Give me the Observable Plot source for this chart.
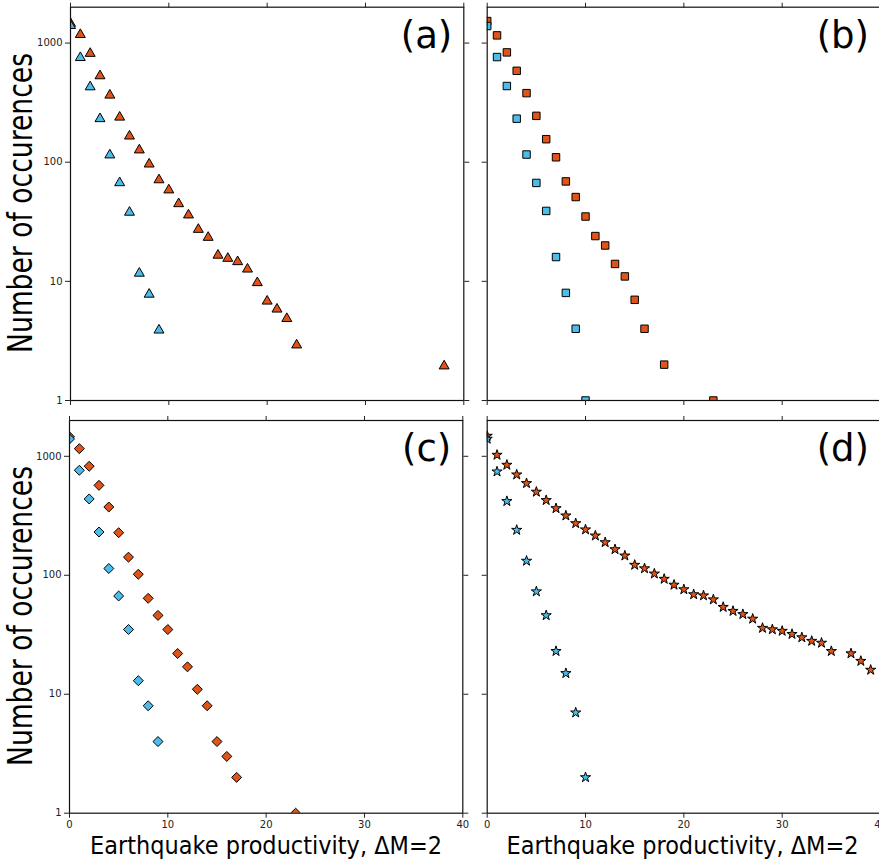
<!DOCTYPE html>
<html><head><meta charset="utf-8">
<script src="https://cdn.jsdelivr.net/npm/d3@7"></script>
<script src="https://cdn.jsdelivr.net/npm/@observablehq/plot@0.6"></script>
<style>
html,body{margin:0;padding:0;background:#fff;overflow:hidden;}
#wrap{position:relative;width:879px;height:865px;font-family:"DejaVu Sans";overflow:hidden;}
#wrap svg{position:absolute;}
</style></head><body><div id="wrap"></div>
<script>
// ---- data: [productivity, number of occurrences] ----
const xTicks = [0, 10, 20, 30, 40];
const yTicks = [1, 10, 100, 1000];

const aOrange = [[0,1500],[1,1210],[2,840],[3,545],[4,375],[5,245],[6,170],[7,130],[8,99],[9,73],[10,60],[11,46],[12,37],[13,28],[14,24],[15,17],[16,16],[17,15],[18,13],[19,10],[20,7],[21,6],[22,5],[23,3],[38,2]];
const aBlue = [[0,1440],[1,775],[2,440],[3,238],[4,118],[5,69],[6,39],[7,12],[8,8],[9,4]];

const bOrange = [[0,1530],[1,1160],[2,835],[3,585],[4,380],[5,245],[6,156],[7,110],[8,69],[9,51],[10,35],[11,24],[12,20],[13,14],[14,11],[15,7],[16,4],[18,2],[23,1]];
const bBlue = [[0,1390],[1,763],[2,436],[3,232],[4,116],[5,67],[6,39],[7,16],[8,8],[9,4],[10,1]];

const cOrange = [[0,1460],[1,1160],[2,825],[3,570],[4,375],[5,228],[6,142],[7,102],[8,64],[9,46],[10,35],[11,22],[12,17],[13,11],[14,8],[15,4],[16,3],[17,2],[23,1]];
const cBlue = [[0,1400],[1,763],[2,438],[3,231],[4,114],[5,67],[6,35],[7,13],[8,8],[9,4]];

const dOrange = [[0,1483],[1,1026],[2,846],[3,701],[4,593],[5,502],[6,427],[7,365],[8,317],[9,273],[10,242],[11,215],[12,189],[13,165],[14,146],[15,122],[16,114],[17,103],[18,93],[19,83],[20,76],[21,69],[22,67.5],[23,62.5],[24,54],[25,50],[26,47],[27,43],[28,36],[29,35],[30,34],[31,32],[32,30],[33,28],[34,27],[35,23],[37,22],[38,19],[39,16]];
const dBlue = [[0,1400],[1,743],[2,419],[3,240],[4,132],[5,73],[6,46],[7,23],[8,15],[9,7],[10,2]];

const panelLabels = ["(a)", "(b)", "(c)", "(d)"];
const yTitle = "Number of occurences";
const xTitle = "Earthquake productivity, ΔM=2";

const ORANGE = "#DF5418";
const BLUE = "#4BBDEB";
const wrap = document.getElementById("wrap");

function panel(o) {
  const dotOpts = (fill) => ({x: d => d[0], y: d => d[1], symbol: o.symbol, r: o.r, dy: o.dy || 0,
    fill, stroke: "#000", strokeWidth: 1, clip: true});
  const svg = Plot.plot({
    width: o.w, height: o.h,
    marginLeft: o.mL, marginRight: o.mR, marginTop: o.mT, marginBottom: o.mB,
    style: {background: "transparent", fontFamily: "DejaVu Sans", fontSize: "10px", color: "#222"},
    x: {domain: [0, 40], label: null},
    y: {type: "log", domain: [1, 2000], label: null},
    marks: [
      Plot.dot(o.orange, dotOpts(ORANGE)),
      Plot.dot(o.blue, dotOpts(BLUE)),
      Plot.frame({stroke: "#111", strokeWidth: 1.2}),
      Plot.axisX({anchor: "bottom", ticks: xTicks, tickSize: 5, tickPadding: 3,
        tickFormat: o.showX ? (d => String(d)) : (() => "")}),
      Plot.axisX({anchor: "top", ticks: xTicks, tickSize: 5, tickFormat: () => ""}),
      Plot.axisY({anchor: "left", ticks: yTicks, tickSize: 5, tickPadding: 3,
        tickFormat: o.showY ? (d => String(d)) : (() => "")}),
      Plot.axisY({anchor: "right", ticks: yTicks, tickSize: 5, tickFormat: () => ""})
    ]
  });
  svg.style.left = o.left + "px";
  svg.style.top = o.top + "px";
  // panel label
  const s = d3.select(svg);
  s.append("text")
    .attr("x", o.w - o.mR - 11).attr("y", o.mT + 41)
    .attr("text-anchor", "end")
    .attr("font-family", "DejaVu Sans").attr("font-size", 37).attr("fill", "#000")
    .text(o.label);
  wrap.appendChild(svg);
}

panel({orange: aOrange, blue: aBlue, symbol: "triangle", r: 3.7, dy: 1.4,
  left: 0, top: 0, w: 480, h: 415, mL: 70, mR: 16.7, mT: 6.7, mB: 15, showY: true, showX: false, label: panelLabels[0]});
panel({orange: bOrange, blue: bBlue, symbol: "square", r: 4.2,
  left: 470, top: 0, w: 410, h: 415, mL: 16.7, mR: 0, mT: 6.7, mB: 15, showY: false, showX: false, label: panelLabels[1]});
panel({orange: cOrange, blue: cBlue, symbol: "diamond2", r: 4.5,
  left: 0, top: 410, w: 480, h: 455, mL: 69, mR: 17.7, mT: 10, mB: 52.3, showY: true, showX: true, label: panelLabels[2]});
panel({orange: dOrange, blue: dBlue, symbol: "star", r: 3.2,
  left: 470, top: 410, w: 410, h: 455, mL: 16.7, mR: 0, mT: 10, mB: 52.3, showY: false, showX: true, label: panelLabels[3]});

// axis titles
const ov = d3.select(wrap).append("svg").attr("width", 879).attr("height", 865)
  .style("left", "0px").style("top", "0px").style("pointer-events", "none");
[203, 616].forEach(cy => {
  ov.append("text").attr("transform", `translate(32,${cy}) rotate(-90)`)
    .attr("text-anchor", "middle").attr("font-family", "DejaVu Sans").attr("font-size", 33)
    .attr("textLength", 300).attr("lengthAdjust", "spacingAndGlyphs").attr("fill", "#000")
    .text(yTitle);
});
[266, 682.5].forEach(cx => {
  ov.append("text").attr("x", cx).attr("y", 854)
    .attr("text-anchor", "middle").attr("font-family", "DejaVu Sans").attr("font-size", 24)
    .attr("textLength", 352).attr("lengthAdjust", "spacingAndGlyphs").attr("fill", "#000")
    .text(xTitle);
});
</script></body></html>
